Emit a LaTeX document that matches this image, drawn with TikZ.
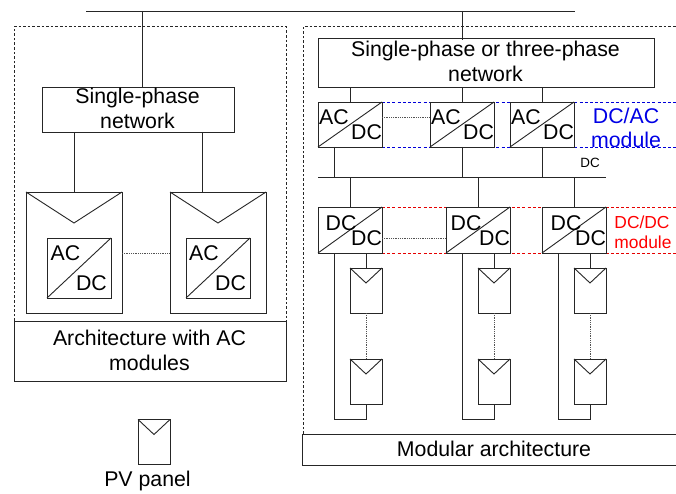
\documentclass[tikz,border=0pt]{standalone}
\usepackage{fontspec}
\setmainfont{Liberation Sans}
\usetikzlibrary{calc}
\definecolor{ln}{gray}{0.15}
\tikzset{
  x=1bp,y=-1bp,
  wire/.style={draw=ln,line width=0.9bp},
  dotline/.style={draw=ln!80,line width=0.6bp,dash pattern=on 0.9bp off 0.9bp},
  frame/.style={draw=ln,line width=0.7bp,dash pattern=on 2.6bp off 2bp},
  bluedash/.style={draw=blue!85!black,line width=0.8bp,dash pattern=on 3bp off 2.2bp},
  reddash/.style={draw=red!90!black,line width=0.8bp,dash pattern=on 3bp off 2.2bp},
  boxed/.style={draw=ln,line width=0.95bp,fill=white,rectangle,inner sep=0pt,outer sep=0pt},
  labelbox/.style={boxed,align=center},
  conv/.style={boxed,minimum width=64bp,minimum height=45bp},
  convbig/.style={boxed,minimum width=64bp,minimum height=60bp},
  panel/.style={boxed,minimum width=32bp,minimum height=45bp},
  bigpanel/.style={boxed,minimum width=96bp,minimum height=121bp},
  txt/.style={inner sep=0pt,outer sep=0pt,align=center,font=\fontsize{21.3bp}{24.5bp}\selectfont},
}
\newcommand{\diag}[1]{\draw[wire] (#1.south west) -- (#1.north east);}
\newcommand{\panelvee}[2]{\draw[wire] (#1.north west) -- ($(#1.north)+(0,#2)$) -- (#1.north east);}
\begin{document}
\begin{tikzpicture}
\useasboundingbox (0,0) rectangle (676,494);
% dashed frames
\draw[frame] (14,321) -- (14,26.5) -- (286,26.5) -- (286,321);
\draw[frame] (303,434) -- (303,26.5) -- (676,26.5);
% module bands
\draw[bluedash] (382,102) -- (676,102);
\draw[bluedash] (382,147) -- (676,147);
\draw[reddash] (382,207) -- (676,207);
\draw[reddash] (382,253) -- (676,253);
% bus bars
\coordinate (busA) at (86,11);
\coordinate (busB) at (575,11);
\coordinate (tapL) at (142,11);
\coordinate (tapR) at (462,11);
\coordinate (dcA) at (318,177.5);
\coordinate (dcB) at (606,177.5);
\coordinate (h253) at (0,253);
\coordinate (h117) at (0,117);
\coordinate (h238) at (0,238);
\draw[wire] (busA) -- (busB);
\draw[wire] (dcA) -- (dcB);
% left side
\node[labelbox,minimum width=192bp,minimum height=45bp] (netL) at (138,109.5) {};
\node[txt] (netLt) at (137.5,108.5) {Single-phase\\network};
\node[labelbox,minimum width=272bp,minimum height=60bp] (capL) at (150,351) {};
\node[txt] (capLt) at (149.5,350.5) {Architecture with AC\\modules};
\node[bigpanel] (pa) at (74,252.5) {};
\node[bigpanel] (pb) at (218,252.5) {};
\panelvee{pa}{31}
\panelvee{pb}{31}
\node[convbig] (ia) at (79,268) {};
\node[convbig] (ib) at (218,268) {};
\diag{ia}
\diag{ib}
\node[txt] (iat) at (65.5,253.5) {AC};
\node[txt] (iad) at (91.5,283) {DC};
\node[txt] (ibt) at (204,253.5) {AC};
\node[txt] (ibd) at (230.5,283) {DC};
\draw[wire] (pa.north) -- (pa.north |- netL.south);
\coordinate (tb) at (202,192);
\draw[wire] (tb) -- (tb |- netL.south);
\draw[wire] (tapL) -- (tapL |- netL.north);
\draw[dotline] (pa.east |- h253) -- (pb.west |- h253);
% legend
\node[panel] (leg) at (154,442) {};
\panelvee{leg}{15}
\node[txt] (legt) at (147.5,481) {PV panel};
% right side
\node[labelbox,minimum width=336bp,minimum height=49bp] (netR) at (486,62.5) {};
\draw[wire] (tapR) -- (462,40);
\node[txt] (netRt) at (485.5,61.5) {Single-phase or three-phase\\network};
\foreach \n/\cx in {a/350,b/462,c/542}{
  \node[conv] (ac\n) at (\cx,124.5) {};
  \diag{ac\n}
  \node[txt] (ac\n t) at (\cx-16,117) {AC};
  \node[txt] (ac\n b) at (\cx+16.5,132.5) {DC};
  \draw[wire] (ac\n.north) -- (ac\n.north |- netR.south);
}
\foreach \n/\cx/\off in {a/350/-9,b/478/-12,c/574/-8}{
  \node[conv,minimum height=46bp] (dc\n) at (\cx,230) {};
  \diag{dc\n}
  \node[txt] (dc\n t) at (\cx+\off,223) {DC};
  \node[txt] (dc\n b) at (\cx+16.5,238.5) {DC};
  \draw[wire] (dc\n.north) -- (dc\n.north |- dcA);
}
\coordinate (tapA) at (334,147);
\draw[wire] (tapA) -- (tapA |- dcA);
\draw[wire] (acb.south) -- (acb.south |- dcA);
\draw[wire] (acc.south) -- (acc.south |- dcA);
\draw[dotline] (aca.east |- h117) -- (acb.west |- h117);
\draw[dotline] (dca.east |- h238) -- (dcb.west |- h238);
\foreach \n/\cx in {a/366,b/494,c/590}{
  \node[panel] (pu\n) at (\cx,290.5) {};
  \node[panel] (pl\n) at (\cx,381.5) {};
  \panelvee{pu\n}{15}
  \panelvee{pl\n}{15}
  \draw[wire] (pu\n.north) -- (pu\n.north |- dc\n.south);
  \draw[dotline] (pu\n.south) -- (pl\n.north);
  \draw[wire] (pl\n.south) -- ++(0,15) -- ++(-32,0) -- (\cx-32,253);
}
\node[txt,text=blue!90!black] (bl1) at (626,116) {DC/AC};
\node[txt,text=blue!90!black] (bl2) at (626,140) {module};
\node[inner sep=0pt,font=\fontsize{13.4bp}{15bp}\selectfont] (dclab) at (590,163) {DC};
\node[txt,text=red,font=\fontsize{17.4bp}{20bp}\selectfont] (rl1) at (642,222) {DC/DC};
\node[txt,text=red,font=\fontsize{17.4bp}{20bp}\selectfont] (rl2) at (643,242.5) {module};
% caption right
\coordinate (cR1) at (676,434);
\coordinate (cL1) at (302.5,434);
\coordinate (cL2) at (302.5,465);
\coordinate (cR2) at (676,465);
\draw[wire] (cR1) -- (cL1) -- (cL2) -- (cR2);
\node[txt] (capR) at (494,449) {Modular architecture};
\end{tikzpicture}
\end{document}
